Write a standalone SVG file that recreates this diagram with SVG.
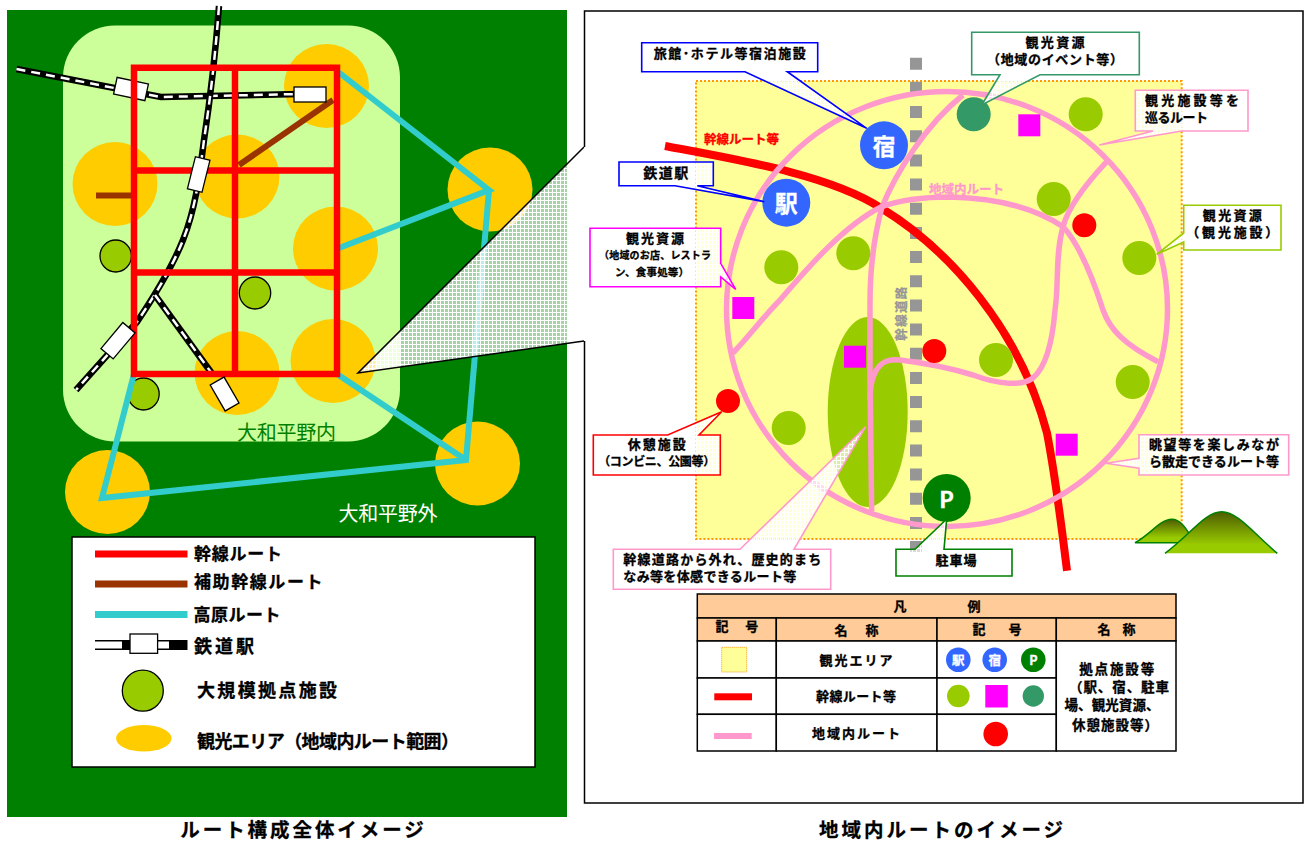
<svg xmlns="http://www.w3.org/2000/svg" width="1308" height="841" viewBox="0 0 1308 841">
<style>
text{font-family:"Noto Sans CJK JP","Noto Sans",sans-serif;dominant-baseline:central;fill:#000;transform:translateY(-1.300px)}
.b{font-weight:700;stroke:#000;stroke-width:.3}
.c{text-anchor:middle}
.orange{fill:#FFCC00}
.gs{fill:#99CC00;stroke:#000;stroke-width:1.3}
.g{fill:#99CC00}
.dg{fill:#339966}
.m{fill:#FF00FF}
.r{fill:#FF0000}
.bl{fill:#3366FF}
.pk{fill:#008000}
.red{fill:none;stroke:#FF0000;stroke-width:6.500}
.cy{fill:none;stroke:#33CCCC;stroke-width:6;stroke-linejoin:miter}
.br{fill:none;stroke:#993300;stroke-width:6}
.rb{fill:none;stroke:#000;stroke-width:6.500}
.rw{fill:none;stroke:#fff;stroke-width:2.500;stroke-dasharray:9 6}
.st{fill:#fff;stroke:#000;stroke-width:1.300}
.route{fill:none;stroke:#FF99CC;stroke-width:5.500}
.co{fill:url(#lat);stroke-width:1.600}
.inv{fill:#fff;stroke:#fff}
.th{fill:#FFCC99;stroke:#000;stroke-width:1.500}
.td{fill:#fff;stroke:#000;stroke-width:1.500}
</style>
<defs>
<pattern id="lat" width="4" height="4" patternUnits="userSpaceOnUse">
<rect width="4" height="4" fill="#fff" fill-opacity=".65"/>
<path d="M0 .5H4M.5 0V4" stroke="#fff" stroke-width="1"/>
</pattern>
<linearGradient id="mt" x1="0" y1="0" x2="0" y2="1">
<stop offset="0" stop-color="#4D5C00"/><stop offset=".8" stop-color="#99CC00"/>
</linearGradient>
</defs>
<rect width="1308" height="841" fill="#fff"/>

<g id="overview">
<rect x="7" y="10" width="560" height="807" fill="#008000"/>
<rect x="63" y="25.500" width="337" height="416" rx="52" fill="#CCFF99"/>
<g id="areas">
<ellipse class="orange" cx="326.500" cy="86" rx="42.500" ry="42"/>
<ellipse class="orange" cx="115" cy="184" rx="42.500" ry="42"/>
<ellipse class="orange" cx="237" cy="176.500" rx="42.500" ry="42"/>
<ellipse class="orange" cx="335.500" cy="248.500" rx="42.500" ry="42"/>
<ellipse class="orange" cx="333" cy="361" rx="42.500" ry="42"/>
<ellipse class="orange" cx="237" cy="373" rx="42.500" ry="42"/>
<ellipse class="orange" cx="490" cy="189.500" rx="42.500" ry="42"/>
<ellipse class="orange" cx="477.500" cy="463.500" rx="42.500" ry="42"/>
<ellipse class="orange" cx="107.500" cy="492" rx="42.500" ry="42"/>
</g>
<g id="large-facilities">
<ellipse class="gs" cx="115.700" cy="256" rx="15.700" ry="16"/>
<ellipse class="gs" cx="255" cy="293" rx="15.700" ry="16"/>
<ellipse class="gs" cx="143.500" cy="394" rx="15.700" ry="16"/>
</g>
<g id="connectors-overview">
<path class="cy" d="M337 71 489 190 339 248M489 190 466 460 102 498 134 374M337 374 466 460"/>
<path class="br" d="M96 195.500H134M239 165 333 100"/>
<path class="rb" d="M16.500 69 135 92 161 97 300 94"/>
<path class="rw" d="M16.500 69 135 92 161 97 300 94"/>
<path class="rb" d="M219 6C215 60 210 100 204 140C199 180 195 210 183 240C172 268 155 295 137 322L76 390"/>
<path class="rw" d="M219 6C215 60 210 100 204 140C199 180 195 210 183 240C172 268 155 295 137 322L76 390"/>
<path class="rb" d="M155 295 213 375"/>
<path class="rw" d="M155 295 213 375"/>
<rect class="st" x="-16" y="-8.500" width="32" height="17" transform="translate(131 89) rotate(12)"/>
<path class="red" d="M134 67.700H337V374H134ZM134 170.500H337M134 272.500H337M235 67.700V374"/>
<rect class="st" x="294" y="87" width="32" height="15"/>
<rect class="st" x="-7.500" y="-16.500" width="15" height="33" transform="translate(198.700 174.500) rotate(14)"/>
<rect class="st" x="-8" y="-17" width="16" height="34" transform="translate(118 340.700) rotate(40)"/>
<rect class="st" x="-8" y="-15" width="16" height="30" transform="translate(224.600 394) rotate(-30)"/>
</g>
<text x="286.500" y="433" class="c" style="font-size:20px;fill:#008000" textLength="99">大和平野内</text>
<text x="388" y="514" class="c" style="font-size:20px;fill:#fff" textLength="99">大和平野外</text>
<polygon points="358,373 584,147 584,341" fill="url(#lat)"/>
<path d="M584 147 358 373 584 341" fill="none" stroke="#000" stroke-width="1.500"/>
<g id="overview-legend">
<rect x="72" y="537" width="463" height="230" fill="#fff" stroke="#000" stroke-width="1.500"/>
<rect x="95" y="550.500" width="92.500" height="7" fill="#FF0000"/>
<rect x="95" y="580.500" width="92.500" height="7" fill="#993300"/>
<rect x="95" y="611" width="92.500" height="7" fill="#33CCCC"/>
<rect x="95" y="640" width="92.500" height="10" fill="#000"/>
<rect x="95" y="641.500" width="27" height="7" fill="#fff"/>
<rect x="158" y="641.500" width="11" height="7" fill="#fff"/>
<rect class="st" x="130" y="634" width="27.600" height="19.300"/>
<ellipse class="gs" cx="142.800" cy="690.700" rx="20.500" ry="20.500"/>
<ellipse class="orange" cx="143.800" cy="738.300" rx="27.700" ry="13.300"/>
<text class="b" x="194" y="554" font-size="17" textLength="88">幹線ルート</text>
<text class="b" x="194" y="582.300" font-size="17" textLength="128.500">補助幹線ルート</text>
<text class="b" x="193.500" y="615" font-size="17" textLength="87">高原ルート</text>
<text class="b" x="194" y="646" font-size="18" textLength="60">鉄道駅</text>
<text class="b" x="197" y="690.700" font-size="18" textLength="140">大規模拠点施設</text>
<text class="b" x="197" y="741" font-size="18" textLength="262">観光エリア（地域内ルート範囲）</text>
</g>
<text class="b c" x="302" y="830" font-size="19.500" textLength="243.500">ルート構成全体イメージ</text>
</g>

<g id="local">
<path d="M584.500 147V11H1303V803H584.500V341" fill="#fff" stroke="#000" stroke-width="1.500"/>
<rect id="tourism-area" x="696" y="81" width="485.700" height="458" fill="#FFFF99" stroke="#FF9900" stroke-width="2" stroke-dasharray="2 2"/>
<g id="mountains">
<path d="M1135 542.700C1150 535 1160 519.300 1171.700 519.300C1182 519.300 1188 532 1195 542.700Z" fill="url(#mt)" stroke="#008000" stroke-width="1.500"/>
<path d="M1165 553.300C1190 535 1205 511.700 1221.700 511.700C1238 511.700 1255 535 1277.300 553.300Z" fill="url(#mt)"/>
<path d="M1165 553.300C1190 535 1205 511.700 1221.700 511.700C1238 511.700 1255 535 1277.300 553.300" fill="none" stroke="#008000" stroke-width="1.500"/>
</g>
<path id="road" d="M916 57.700V553.500" fill="none" stroke="#969696" stroke-width="12" stroke-dasharray="12 12.170"/>
<g transform="translate(902 313.700) rotate(-90)"><text class="b c" x="0" y="0" font-size="12.500" style="fill:#969696;stroke:#969696" textLength="54">幹線道路</text></g>
<ellipse id="valley" class="g" cx="867.700" cy="412" rx="40" ry="95"/>
<g id="connectors-local">
<path d="M665 146C740 160 830 175 881 208C950 250 1020 330 1047 433C1056 480 1062 530 1067 570.700" fill="none" stroke="#FF0000" stroke-width="8"/>
<ellipse class="route" cx="947" cy="309" rx="220.500" ry="217.500"/>
<path class="route" d="M963 95C925 125 895 175 882 207C873 240 870 275 870 303L870 380L871.700 511"/>
<path class="route" d="M733 353C750 335 765 315 780 300C810 265 845 225 881 207C905 198 930 197 950 197C995 198 1035 208 1063 226.700C1080 245 1095 285 1103 310C1110 330 1125 345 1158 361.700"/>
<path class="route" d="M1106.700 161.700C1085 185 1068 208 1063 226.700C1055 255 1059 285 1055 310C1053 335 1048 365 1033 378C1022 386 1000 385 973 375C950 368 925 363 900 360C885 358 878 365 874 375C871 382 870 390 870 400"/>
</g>
<g id="node-yado"><circle class="bl" cx="884" cy="145.300" r="24"/><text class="b c inv" x="884" y="146" font-size="23">宿</text></g>
<g id="node-eki"><circle class="bl" cx="786.300" cy="202.700" r="24"/><text class="b c inv" x="786.300" y="203.500" font-size="23">駅</text></g>
<g id="node-parking"><circle class="pk" cx="946.700" cy="498" r="24"/><text class="b c inv" x="946.700" y="499" font-size="22">P</text></g>
<g id="resources">
<circle class="dg" cx="973.700" cy="114.300" r="17"/>
<circle class="g" cx="1085.700" cy="114.300" r="17"/>
<circle class="g" cx="1053.700" cy="199" r="17"/>
<circle class="g" cx="1139.300" cy="258" r="17"/>
<circle class="g" cx="781.300" cy="267.300" r="17"/>
<circle class="g" cx="853.300" cy="253.300" r="17"/>
<circle class="g" cx="996" cy="360" r="17"/>
<circle class="g" cx="1132.700" cy="382" r="17"/>
<circle class="g" cx="788.700" cy="428" r="17"/>
<rect class="m" x="1018.300" y="114.300" width="22" height="22"/>
<rect class="m" x="732.300" y="297" width="22" height="22"/>
<rect class="m" x="844" y="345.700" width="22" height="22"/>
<rect class="m" x="1055.700" y="433.700" width="22" height="22"/>
<circle class="r" cx="1084.300" cy="225.300" r="12"/>
<circle class="r" cx="934.300" cy="351" r="12"/>
<circle class="r" cx="728" cy="401" r="12"/>
</g>
<text class="b" x="704" y="140" font-size="12.500" style="fill:#FF0000;stroke:#FF0000" textLength="75">幹線ルート等</text>
<text class="b" x="929" y="190" font-size="12.500" style="fill:#FF99CC;stroke:#FF99CC" textLength="75">地域内ルート</text>

<g id="callout-lodging">
<path class="co" stroke="#0000FF" d="M641.700 42.700H817.700V71.700H787.300L866.700 128.300 745 71.700H641.700Z"/>
<text class="b c" x="729.700" y="54" font-size="13" textLength="152">旅館･ホテル等宿泊施設</text>
</g>
<g id="callout-station">
<path class="co" stroke="#0000FF" d="M619 162H713.300V185.700H697.300L764.300 201.700 675 185.700H619Z"/>
<text class="b c" x="665.700" y="173" font-size="14" textLength="45">鉄道駅</text>
</g>
<g id="callout-shop">
<path class="co" stroke="#FF00FF" d="M590 228.300H720.700V263.300L735.700 289.300 720.700 277V286.700H590Z"/>
<text class="b c" x="655" y="239" font-size="13" textLength="58">観光資源</text>
<text class="b c" x="655" y="256" font-size="10" textLength="112">（地域のお店、レストラ</text>
<text class="b c" x="652" y="273" font-size="10.500" textLength="74">ン、食事処等）</text>
</g>
<g id="callout-event">
<path class="co" stroke="#339966" d="M971.700 32.300H1139.300V74.700H1040L981.700 105 1000 74.700H971.700Z"/>
<text class="b c" x="1055" y="43" font-size="13" textLength="59">観光資源</text>
<text class="b c" x="1055" y="60" font-size="13" textLength="136">（地域のイベント等）</text>
</g>
<g id="callout-circuit">
<path class="co" stroke="#FF99CC" d="M1135.300 90.300H1248V131H1181.700L1099.300 145 1153 131H1135.300Z"/>
<text class="b" x="1145" y="100.700" font-size="13" textLength="94">観光施設等を</text>
<text class="b" x="1145" y="117.700" font-size="13" textLength="63">巡るルート</text>
</g>
<g id="callout-sight">
<path class="co" stroke="#99CC00" d="M1183.700 205.300H1281V250H1183.700V242L1156.700 254.300 1183.700 233Z"/>
<text class="b c" x="1232.300" y="216" font-size="13" textLength="59">観光資源</text>
<text class="b c" x="1232.300" y="233" font-size="13" textLength="92">（観光施設）</text>
</g>
<g id="callout-rest">
<path class="co" stroke="#FF0000" d="M593.300 435H667.700L721.700 411.700 699 435H720.300V475H593.300Z"/>
<text class="b c" x="656.700" y="445" font-size="13" textLength="58">休憩施設</text>
<text class="b c" x="656.700" y="462" font-size="12" textLength="117">（コンビニ、公園等）</text>
</g>
<g id="callout-historic">
<path class="co" stroke="#FF99CC" d="M613.300 549.300H740L865.700 426.700 794 549.300H830.700V589.300H613.300Z"/>
<text class="b" x="623.300" y="560" font-size="13" textLength="198">幹線道路から外れ、歴史的まち</text>
<text class="b" x="623.300" y="576.700" font-size="13" textLength="173">なみ等を体感できるルート等</text>
</g>
<g id="callout-parking">
<path class="co" stroke="#008000" d="M896 549.300H915L946.700 519 944 549.300H1012V576H896Z"/>
<text class="b c" x="956" y="561" font-size="13" textLength="41">駐車場</text>
</g>
<g id="callout-walk">
<path class="co" stroke="#FF99CC" d="M1139 434.700H1288.700V475H1139V468.300L1105.700 463.300 1139 458.300Z"/>
<text class="b" x="1149" y="445" font-size="13" textLength="130">眺望等を楽しみなが</text>
<text class="b" x="1149" y="462" font-size="13" textLength="130">ら散走できるルート等</text>
</g>

<g id="local-legend">
<rect class="th" x="697.300" y="594" width="478.700" height="24"/>
<rect class="th" x="697.300" y="618" width="79" height="23"/>
<rect class="th" x="776.300" y="618" width="160.700" height="23"/>
<rect class="th" x="937" y="618" width="119.300" height="23"/>
<rect class="th" x="1056.300" y="618" width="119.700" height="23"/>
<rect class="td" x="697.300" y="641" width="79" height="37"/>
<rect class="td" x="776.300" y="641" width="160.700" height="37"/>
<rect class="td" x="937" y="641" width="119.300" height="37"/>
<rect class="td" x="697.300" y="678" width="79" height="36.300"/>
<rect class="td" x="776.300" y="678" width="160.700" height="36.300"/>
<rect class="td" x="937" y="678" width="119.300" height="36.300"/>
<rect class="td" x="697.300" y="714.300" width="79" height="36.700"/>
<rect class="td" x="776.300" y="714.300" width="160.700" height="36.700"/>
<rect class="td" x="937" y="714.300" width="119.300" height="36.700"/>
<rect class="td" x="1056.300" y="641" width="119.700" height="110"/>
<text class="b c" x="900" y="606.700" font-size="13">凡</text>
<text class="b c" x="974" y="606.700" font-size="13">例</text>
<text class="b c" x="722" y="627" font-size="13">記</text>
<text class="b c" x="751.700" y="627" font-size="13">号</text>
<text class="b c" x="841" y="630.500" font-size="13">名</text>
<text class="b c" x="872" y="630.500" font-size="13">称</text>
<text class="b c" x="979" y="630" font-size="13">記</text>
<text class="b c" x="1015" y="630" font-size="13">号</text>
<text class="b c" x="1104" y="630" font-size="13">名</text>
<text class="b c" x="1129" y="630" font-size="13">称</text>
<text class="b c" x="856" y="661" font-size="13" textLength="73">観光エリア</text>
<text class="b c" x="856" y="696.700" font-size="13" textLength="80">幹線ルート等</text>
<text class="b c" x="856" y="734" font-size="13" textLength="88">地域内ルート</text>
<rect x="721.700" y="647.300" width="25" height="24.700" fill="#FFFF99" stroke="#FF9900" stroke-width="1" stroke-dasharray="1 1"/>
<rect x="714.300" y="693.300" width="37.700" height="7" fill="#FF0000"/>
<rect x="714" y="733" width="37.700" height="6" fill="#FF99CC"/>
<circle class="bl" cx="958.300" cy="659.700" r="12.300"/><text class="b c inv" x="958.300" y="660.500" font-size="12.500">駅</text>
<circle class="bl" cx="994.700" cy="659.700" r="12.300"/><text class="b c inv" x="994.700" y="660.500" font-size="12.500">宿</text>
<circle class="pk" cx="1033.300" cy="659.700" r="12.300"/><text class="b c inv" x="1033.300" y="660.500" font-size="12.500">P</text>
<circle class="g" cx="958.300" cy="696" r="11.300"/>
<rect class="m" x="985.300" y="685" width="22.500" height="22.500"/>
<circle class="dg" cx="1033.300" cy="696" r="10.700"/>
<circle class="r" cx="995.700" cy="734" r="12.300"/>
<text class="b c" x="1116.700" y="669" font-size="13.500" textLength="75">拠点施設等</text>
<text class="b c" x="1119" y="687" font-size="13.500" textLength="100">（駅、宿、駐車</text>
<text class="b c" x="1112" y="705.700" font-size="13.500" textLength="95">場、観光資源、</text>
<text class="b c" x="1115" y="725" font-size="13.500" textLength="86">休憩施設等）</text>
</g>
<text class="b c" x="941" y="830" font-size="19.500" textLength="244">地域内ルートのイメージ</text>
</g>
</svg>
